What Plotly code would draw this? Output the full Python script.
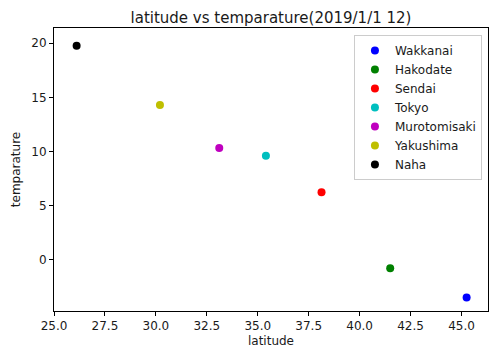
import plotly.graph_objects as go

cities = ["Wakkanai", "Hakodate", "Sendai", "Tokyo", "Murotomisaki", "Yakushima", "Naha"]
latitude = [45.25, 41.5, 38.13, 35.4, 33.11, 30.2, 26.11]
temparature = [-3.47, -0.77, 6.26, 9.63, 10.34, 14.3, 19.78]
colors = ["#0000FF", "#008000", "#FF0000", "#00BFBF", "#BF00BF", "#BFBF00", "#000000"]

x_ticks = [25.0, 27.5, 30.0, 32.5, 35.0, 37.5, 40.0, 42.5, 45.0]
y_ticks = [0, 5, 10, 15, 20]

FONT = "DejaVu Sans"
TXT = "#1a1a1a"

# the page body adds an 8px offset; margins compensate for it
fig = go.Figure()
for name, x, y, c in zip(cities, latitude, temparature, colors):
    fig.add_trace(go.Scatter(
        x=[x], y=[y], mode="markers", name=name,
        marker=dict(color=c, size=8, line=dict(width=0)),
    ))

axis_common = dict(
    showline=True, linecolor="#000000", linewidth=1, mirror=True,
    ticks="outside", ticklen=4, tickcolor="#000000", tickwidth=1,
    showgrid=False, zeroline=False, automargin=False,
    tickfont=dict(family=FONT, size=12, color=TXT),
)

fig.update_layout(
    width=500, height=360,
    margin=dict(l=46, r=20, t=20, b=57),
    paper_bgcolor="white", plot_bgcolor="white",
    font=dict(family=FONT, color=TXT),
    title=dict(text="latitude vs temparature(2019/1/1 12)",
               x=263 / 500, xanchor="center",
               y=1 - 10 / 360, yanchor="middle",
               font=dict(family=FONT, size=15, color=TXT)),
    xaxis=dict(range=[25.0, 46.3], tickvals=x_ticks,
               ticktext=[f"{v:.1f}" for v in x_ticks],
               title=dict(text="latitude", font=dict(family=FONT, size=12, color=TXT), standoff=4),
               **axis_common),
    yaxis=dict(range=[-4.71, 21.41], tickvals=y_ticks,
               ticktext=[str(v) for v in y_ticks],
               title=dict(text="temparature", font=dict(family=FONT, size=12, color=TXT), standoff=8),
               **axis_common),
    legend=dict(x=0.986, y=0.975, xanchor="right", yanchor="top",
                bgcolor="rgba(255,255,255,0.8)", bordercolor="#cccccc", borderwidth=1,
                font=dict(family=FONT, size=12, color=TXT),
                tracegroupgap=0, itemwidth=30),
    showlegend=True,
)

fig.write_html("out.html")
